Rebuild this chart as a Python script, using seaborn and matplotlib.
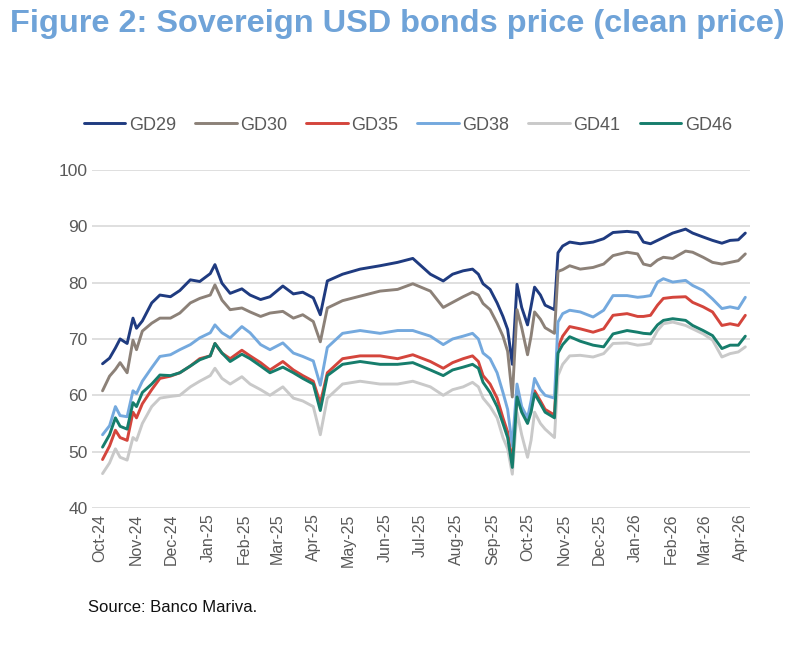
import pandas as pd
import seaborn as sns
import matplotlib.pyplot as plt
import matplotlib.dates as mdates

# fechas de cotizacion (aprox.)
dates = [
    '2024-10-03', '2024-10-09', '2024-10-14', '2024-10-18', '2024-10-24', '2024-10-29',
    '2024-11-01', '2024-11-06', '2024-11-14', '2024-11-21', '2024-11-30', '2024-12-08',
    '2024-12-17', '2024-12-25', '2025-01-03', '2025-01-07', '2025-01-13', '2025-01-20',
    '2025-01-30', '2025-02-06', '2025-02-15', '2025-02-23', '2025-03-06', '2025-03-15',
    '2025-03-23', '2025-04-01', '2025-04-07', '2025-04-13', '2025-04-26', '2025-05-11',
    '2025-05-28', '2025-06-12', '2025-06-25', '2025-07-10', '2025-07-21', '2025-07-29',
    '2025-08-07', '2025-08-15', '2025-08-20', '2025-08-24', '2025-08-30', '2025-09-05',
    '2025-09-10', '2025-09-14', '2025-09-18', '2025-09-22', '2025-09-26', '2025-10-01',
    '2025-10-04', '2025-10-07', '2025-10-12', '2025-10-16', '2025-10-24', '2025-10-27',
    '2025-10-31', '2025-11-06', '2025-11-15', '2025-11-26', '2025-12-05', '2025-12-13',
    '2025-12-25', '2026-01-03', '2026-01-08', '2026-01-14', '2026-01-20', '2026-01-25',
    '2026-02-02', '2026-02-13', '2026-02-19', '2026-02-28', '2026-03-08', '2026-03-16',
    '2026-03-23', '2026-03-30', '2026-04-05',
]

gd29 = [65.6, 66.6, 68.4, 70.0, 69.2, 73.7, 71.9, 73.2, 76.4, 77.8, 77.5, 78.6,
        80.5, 80.2, 81.6, 83.2, 79.9, 78.1, 78.9, 77.8, 77.0, 77.5, 79.4, 78.0,
        78.3, 77.3, 74.3, 80.3, 81.5, 82.4, 83.0, 83.6, 84.3, 81.5, 80.3, 81.5,
        82.1, 82.4, 81.5, 79.8, 78.8, 76.4, 74.0, 71.7, 65.5, 79.7, 75.6, 72.5,
        75.8, 79.2, 77.8, 76.0, 75.2, 85.3, 86.5, 87.2, 86.9, 87.2, 87.8, 88.9,
        89.1, 88.9, 87.2, 86.9, 87.5, 88.0, 88.8, 89.5, 88.8, 88.1, 87.5, 87.0,
        87.5, 87.6, 88.8]
gd30 = [60.8, 63.4, 64.6, 65.8, 64.0, 69.8, 68.1, 71.4, 72.8, 73.7, 73.7, 74.6,
        76.4, 77.2, 77.8, 79.6, 76.9, 75.2, 75.5, 74.8, 74.0, 74.6, 74.9, 73.7,
        74.3, 73.1, 69.5, 75.5, 76.8, 77.6, 78.5, 78.8, 79.8, 78.5, 75.6, 76.5,
        77.5, 78.3, 77.8, 76.3, 75.2, 72.8, 70.5, 67.8, 59.7, 75.2, 72.0, 67.2,
        70.5, 74.8, 73.5, 72.0, 71.0, 82.0, 82.3, 83.0, 82.4, 82.7, 83.3, 84.8,
        85.4, 85.1, 83.3, 83.0, 84.0, 84.5, 84.3, 85.6, 85.4, 84.5, 83.6, 83.3,
        83.6, 83.9, 85.1]
gd35 = [48.6, 51.0, 53.8, 52.5, 52.0, 57.0, 56.0, 58.5, 61.0, 63.0, 63.4, 64.0,
        65.2, 66.5, 67.0, 69.2, 67.5, 66.5, 68.0, 67.0, 65.8, 64.5, 66.0, 64.5,
        63.5, 62.5, 58.6, 64.0, 66.5, 67.0, 67.0, 66.5, 67.2, 66.0, 64.8, 65.8,
        66.5, 67.0, 66.0, 63.5, 62.0, 59.5, 56.0, 53.5, 48.0, 60.0, 57.5, 55.5,
        57.5, 60.8, 59.0, 57.5, 56.5, 68.5, 70.5, 72.2, 71.8, 71.2, 71.8, 74.2,
        74.5, 74.0, 74.0, 74.2, 76.0, 77.2, 77.4, 77.5, 76.5, 75.7, 74.8, 72.4,
        72.7, 72.4, 74.2]
gd38 = [53.0, 54.6, 58.0, 56.4, 56.2, 60.8, 60.3, 62.5, 64.9, 66.9, 67.2, 68.1,
        69.0, 70.2, 71.1, 72.5, 71.1, 70.2, 72.2, 71.1, 69.0, 68.1, 69.3, 67.5,
        66.9, 66.1, 61.8, 68.5, 71.0, 71.5, 71.0, 71.5, 71.5, 70.5, 69.0, 70.0,
        70.5, 71.0, 70.0, 67.5, 66.5, 64.0, 60.5, 57.5, 51.0, 62.0, 58.0, 56.0,
        59.0, 63.0, 61.0, 60.0, 59.5, 73.0, 74.5, 75.1, 74.8, 73.9, 75.1, 77.7,
        77.7, 77.4, 77.5, 77.7, 80.1, 80.7, 80.1, 80.4, 79.5, 78.6, 77.1, 75.4,
        75.7, 75.4, 77.4]
gd41 = [46.1, 48.0, 50.5, 49.0, 48.5, 52.5, 52.0, 55.0, 58.0, 59.5, 59.8, 60.0,
        61.5, 62.5, 63.5, 64.8, 63.0, 62.0, 63.3, 62.0, 61.0, 60.0, 61.5, 59.5,
        59.0, 58.0, 53.0, 59.5, 62.0, 62.5, 62.0, 62.0, 62.5, 61.5, 60.0, 61.0,
        61.5, 62.3, 61.5, 59.5, 58.0, 56.0, 52.5, 50.5, 46.0, 57.0, 53.0, 49.0,
        52.0, 57.0, 55.0, 54.0, 52.5, 63.5, 65.5, 67.0, 67.1, 66.8, 67.4, 69.2,
        69.3, 68.9, 69.0, 69.2, 71.5, 72.7, 73.0, 72.4, 71.8, 70.9, 69.8, 66.8,
        67.4, 67.7, 68.6]
gd46 = [50.8, 53.0, 56.0, 54.5, 54.0, 58.7, 58.0, 60.5, 62.0, 63.6, 63.5, 64.0,
        65.2, 66.3, 67.0, 69.2, 67.5, 66.0, 67.3, 66.5, 65.2, 64.0, 65.0, 64.0,
        63.0, 62.0, 57.3, 63.5, 65.5, 66.0, 65.5, 65.5, 65.8, 64.5, 63.5, 64.5,
        65.0, 65.5, 64.8, 62.3, 60.5, 58.0, 55.0, 52.5, 47.2, 59.7, 57.0, 55.0,
        57.0, 60.3, 58.5, 57.0, 56.0, 67.5, 69.0, 70.4, 69.6, 68.9, 68.6, 70.9,
        71.5, 71.2, 71.0, 70.9, 72.5, 73.3, 73.6, 73.3, 72.4, 71.5, 70.6, 68.3,
        68.9, 68.9, 70.5]

bonds = ['GD29', 'GD30', 'GD35', 'GD38', 'GD41', 'GD46']
colores = ['#1F3B80', '#8C8178', '#D4453C', '#74A9DE', '#C9C9C9', '#167D6C']

df = pd.DataFrame({'fecha': pd.to_datetime(dates),
                   'GD29': gd29, 'GD30': gd30, 'GD35': gd35,
                   'GD38': gd38, 'GD41': gd41, 'GD46': gd46})
df_long = df.melt(id_vars='fecha', var_name='bono', value_name='precio')

# %%
sns.set_style('white')
plt.rcParams['font.family'] = ['Liberation Sans', 'DejaVu Sans']

fig = plt.figure(figsize=(8, 6.5), dpi=100)
ax = fig.add_axes([0.115, 0.2185, 0.8225, 0.52])

sns.lineplot(data=df_long, x='fecha', y='precio', hue='bono', hue_order=bonds,
             palette=dict(zip(bonds, colores)), linewidth=2.1, ax=ax)

ax.set_ylim(40, 100)
ax.set_yticks(range(40, 101, 10))
ax.set_xlim(pd.Timestamp('2024-09-24'), pd.Timestamp('2026-04-09'))
ax.xaxis.set_major_locator(mdates.MonthLocator())
ax.xaxis.set_major_formatter(mdates.DateFormatter('%b-%y'))
ax.tick_params(axis='x', rotation=90, labelsize=11.5, colors='#595959', length=0, pad=4)
ax.tick_params(axis='y', labelsize=12.5, colors='#595959', length=0, pad=3)
ax.grid(axis='y', color='#D9D9D9', linewidth=1.2)
ax.grid(axis='x', visible=False)
sns.despine(ax=ax, left=True, bottom=True)
ax.set_xlabel('')
ax.set_ylabel('')

ax.legend(loc='center', bbox_to_anchor=(0.48, 1.133), ncol=6, frameon=False,
          fontsize=13, handlelength=2.3, handletextpad=0.2, columnspacing=1.05,
          labelcolor='#595959')

fig.text(0.497, 0.963, 'Figure 2: Sovereign USD bonds price (clean price)',
         ha='center', va='center', fontsize=23.4, fontweight='bold', color='#6FA3D8')
fig.text(0.11, 0.066, 'Source: Banco Mariva.', ha='left', va='center',
         fontsize=12, color='#111111')

fig.savefig('out.png', dpi=100)
